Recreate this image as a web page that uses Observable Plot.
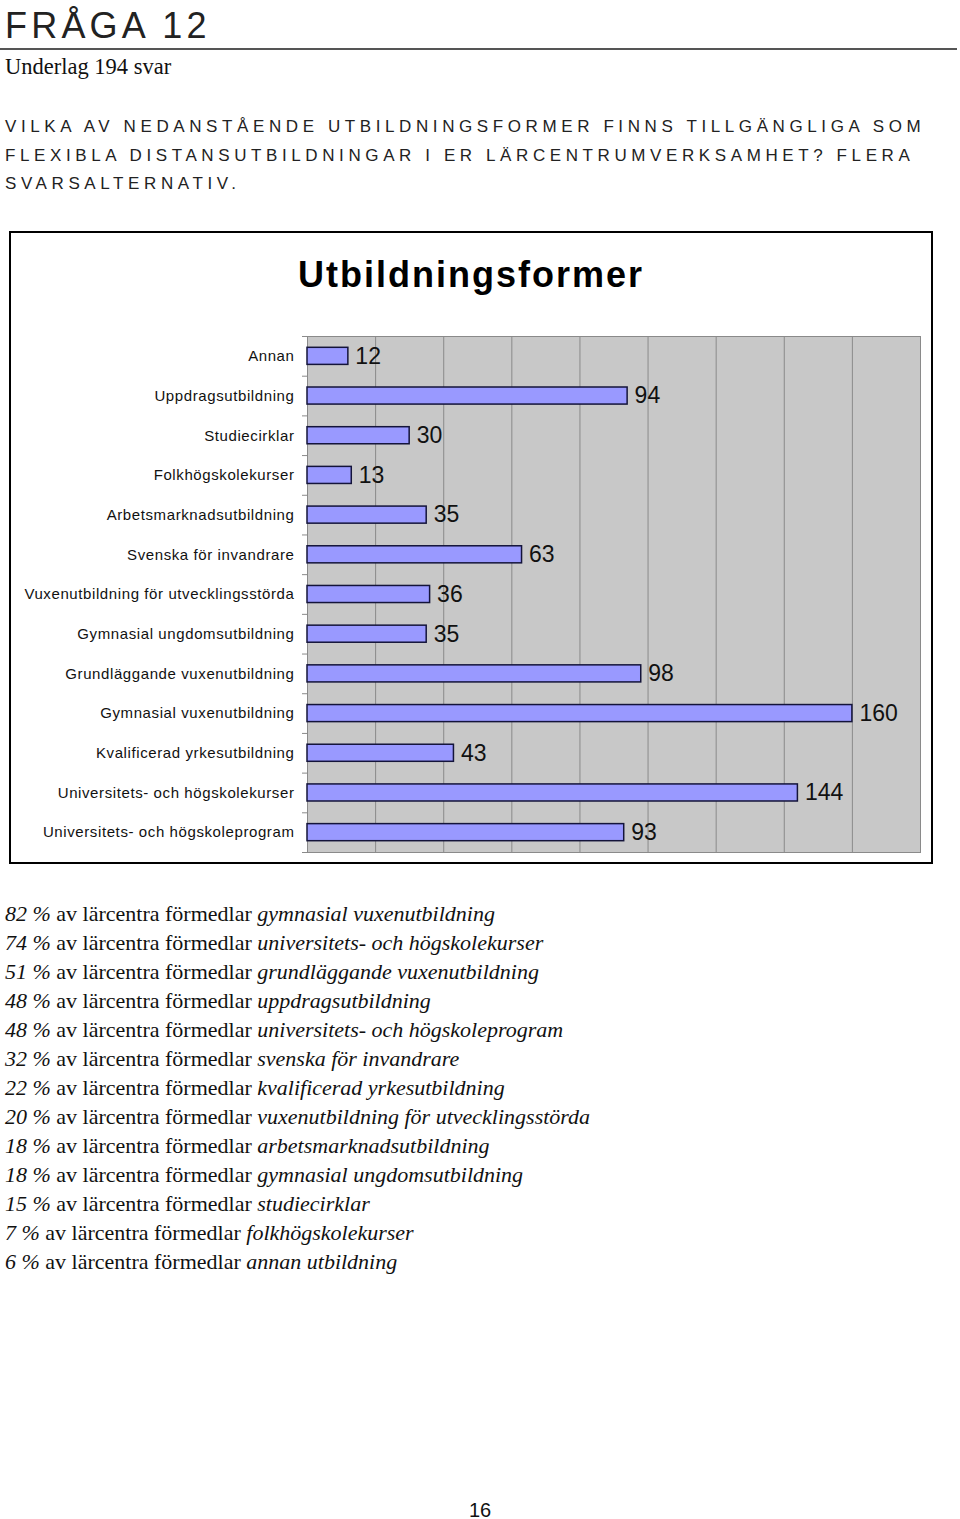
<!DOCTYPE html>
<html>
<head>
<meta charset="utf-8">
<script src="https://cdn.jsdelivr.net/npm/d3@7"></script>
<script src="https://cdn.jsdelivr.net/npm/@observablehq/plot@0.6"></script>
<style>
  html, body { margin: 0; padding: 0; background: #fff; }
  body { position: relative; width: 960px; height: 1519px; overflow: hidden; color: #111; }
  .abs { position: absolute; white-space: nowrap; }
  #h1 { left: 5px; top: 5px; font-family: "Liberation Sans", Arial, sans-serif; font-size: 36px; letter-spacing: 4.2px; font-weight: normal; color: #222; }
  #rule { left: 0; top: 48px; width: 957px; height: 2px; background: #555; }
  #sub { left: 5px; top: 54px; font-family: "Liberation Serif", "Times New Roman", serif; font-size: 22.5px; }
  #q { left: 5px; top: 113px; font-family: "Liberation Sans", Arial, sans-serif; font-size: 17px; letter-spacing: 4.6px; line-height: 28.5px; color: #222; }
  #box { left: 9px; top: 231px; width: 924px; height: 633px; border: 2px solid #000; box-sizing: border-box; }
  #title { left: 9px; width: 924px; top: 254px; text-align: center; font-family: "Liberation Sans", Arial, sans-serif; font-size: 36px; font-weight: bold; letter-spacing: 2px; color: #000; }
  #chart { left: 11px; top: 326px; }
  #notes { left: 5px; top: 899px; font-family: "Liberation Serif", "Times New Roman", serif; font-size: 22px; line-height: 29px; }
  #page { left: 0; width: 960px; top: 1499px; text-align: center; font-family: "Liberation Sans", Arial, sans-serif; font-size: 20px; }
</style>
</head>
<body>
<div id="h1" class="abs">FRÅGA 12</div>
<div id="rule" class="abs"></div>
<div id="sub" class="abs">Underlag 194 svar</div>
<div id="q" class="abs">VILKA AV NEDANSTÅENDE UTBILDNINGSFORMER FINNS TILLGÄNGLIGA SOM<br>FLEXIBLA DISTANSUTBILDNINGAR I ER LÄRCENTRUMVERKSAMHET? FLERA<br>SVARSALTERNATIV.</div>
<div id="box" class="abs"></div>
<div id="title" class="abs">Utbildningsformer</div>
<div id="chart" class="abs"></div>
<div id="notes" class="abs"></div>
<div id="page" class="abs">16</div>
<script>
const categories = [
  "Annan",
  "Uppdragsutbildning",
  "Studiecirklar",
  "Folkhögskolekurser",
  "Arbetsmarknadsutbildning",
  "Svenska för invandrare",
  "Vuxenutbildning för utvecklingsstörda",
  "Gymnasial ungdomsutbildning",
  "Grundläggande vuxenutbildning",
  "Gymnasial vuxenutbildning",
  "Kvalificerad yrkesutbildning",
  "Universitets- och högskolekurser",
  "Universitets- och högskoleprogram"
];
const values = [12, 94, 30, 13, 35, 63, 36, 35, 98, 160, 43, 144, 93];
const xTicks = [20, 40, 60, 80, 100, 120, 140, 160];
const xDomain = [0, 180];

const notePercents = [82, 74, 51, 48, 48, 32, 22, 20, 18, 18, 15, 7, 6];
const noteNames = [
  "gymnasial vuxenutbildning",
  "universitets- och högskolekurser",
  "grundläggande vuxenutbildning",
  "uppdragsutbildning",
  "universitets- och högskoleprogram",
  "svenska för invandrare",
  "kvalificerad yrkesutbildning",
  "vuxenutbildning för utvecklingsstörda",
  "arbetsmarknadsutbildning",
  "gymnasial ungdomsutbildning",
  "studiecirklar",
  "folkhögskolekurser",
  "annan utbildning"
];

const data = categories.map((c, i) => ({category: c, value: values[i]}));

const W = 920, H = 532, mT = 10, mB = 6, mL = 296, mR = 11;
const step = (H - mT - mB) / categories.length;

const chart = Plot.plot({
  width: W, height: H,
  marginLeft: mL, marginRight: mR, marginTop: mT, marginBottom: mB,
  x: {domain: xDomain, axis: null},
  y: {domain: categories, paddingInner: 0.57, paddingOuter: 0.285, round: false, axis: null},
  style: {fontFamily: "'Liberation Sans', Arial, sans-serif", background: "transparent", overflow: "visible"},
  marks: [
    Plot.frame({fill: "#c8c8c8"}),
    Plot.ruleX(xTicks, {stroke: "#8a8a8a", strokeWidth: 1}),
    Plot.frame({stroke: "#8a8a8a"}),
    Plot.ruleY(categories, {y: d => d, x1: 0, x2: 0, insetLeft: -5, dy: -step / 2, stroke: "#8a8a8a"}),
    Plot.ruleY([categories[categories.length - 1]], {y: d => d, x1: 0, x2: 0, insetLeft: -5, dy: step / 2, stroke: "#8a8a8a"}),
    Plot.barX(data, {x: "value", y: "category", fill: "#9999ff", stroke: "#14143a", strokeWidth: 1.5}),
    Plot.text(data, {x: "value", y: "category", text: d => String(d.value), dx: 7, textAnchor: "start", fontSize: 23, fill: "#111"}),
    Plot.axisY({tickSize: 0, tickPadding: 13, fontSize: 15, fill: "#111", label: null})
  ]
});
chart.querySelectorAll("g[aria-label='y-axis tick label'] text").forEach(t => t.style.letterSpacing = "0.6px");
document.getElementById("chart").appendChild(chart);

document.getElementById("notes").innerHTML = notePercents
  .map((p, i) => `<i>${p} %</i> av lärcentra förmedlar <i>${noteNames[i]}</i>`)
  .join("<br>");
</script>
</body>
</html>
